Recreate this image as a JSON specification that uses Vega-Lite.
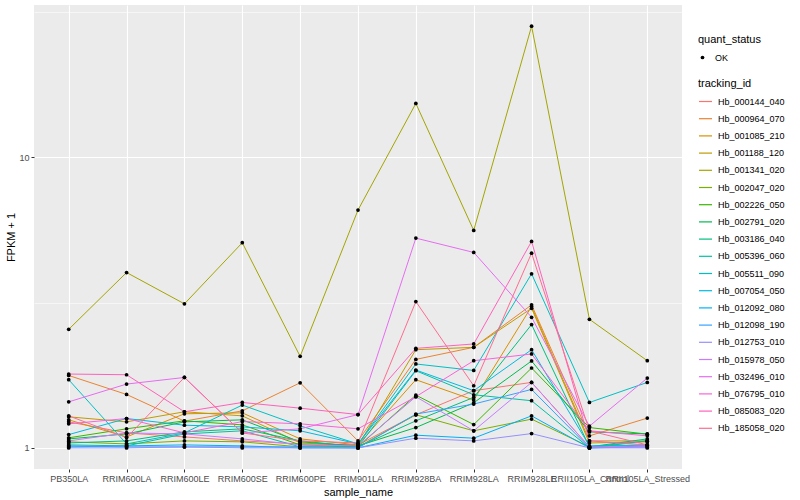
{
  "$schema": "https://vega.github.io/schema/vega-lite/v6.json",
  "autosize": {"type": "none"},
  "width": 648,
  "height": 464,
  "padding": {"left": 34, "top": 5, "right": 118, "bottom": 31},
  "background": "white",
  "config": {
    "font": "Liberation Sans",
    "view": {"fill": "#EBEBEB", "stroke": null},
    "axis": {
      "gridColor": "white",
      "gridWidth": 1.1,
      "domain": false,
      "tickColor": "#333333",
      "tickSize": 3,
      "labelColor": "#4D4D4D",
      "labelFontSize": 9,
      "titleFontSize": 11,
      "titleFontWeight": "normal",
      "titleColor": "black"
    },
    "legend": {
      "titleFontSize": 11,
      "titleFontWeight": "normal",
      "titleColor": "black",
      "labelFontSize": 9,
      "labelColor": "black"
    }
  },
  "data": {"values": [
{"tracking_id":"Hb_000144_040","sample_name":"PB350LA","fpkm_plus_1":1.229,"quant_status":"OK"},
{"tracking_id":"Hb_000144_040","sample_name":"RRIM600LA","fpkm_plus_1":1.126,"quant_status":"OK"},
{"tracking_id":"Hb_000144_040","sample_name":"RRIM600LE","fpkm_plus_1":1.091,"quant_status":"OK"},
{"tracking_id":"Hb_000144_040","sample_name":"RRIM600SE","fpkm_plus_1":1.057,"quant_status":"OK"},
{"tracking_id":"Hb_000144_040","sample_name":"RRIM600PE","fpkm_plus_1":1.032,"quant_status":"OK"},
{"tracking_id":"Hb_000144_040","sample_name":"RRIM901LA","fpkm_plus_1":1.024,"quant_status":"OK"},
{"tracking_id":"Hb_000144_040","sample_name":"RRIM928BA","fpkm_plus_1":1.300,"quant_status":"OK"},
{"tracking_id":"Hb_000144_040","sample_name":"RRIM928LA","fpkm_plus_1":1.573,"quant_status":"OK"},
{"tracking_id":"Hb_000144_040","sample_name":"RRIM928LE","fpkm_plus_1":1.680,"quant_status":"OK"},
{"tracking_id":"Hb_000144_040","sample_name":"RRII105LA_Control","fpkm_plus_1":1.008,"quant_status":"OK"},
{"tracking_id":"Hb_000144_040","sample_name":"RRII105LA_Stressed","fpkm_plus_1":1.024,"quant_status":"OK"},
{"tracking_id":"Hb_000964_070","sample_name":"PB350LA","fpkm_plus_1":1.775,"quant_status":"OK"},
{"tracking_id":"Hb_000964_070","sample_name":"RRIM600LA","fpkm_plus_1":1.527,"quant_status":"OK"},
{"tracking_id":"Hb_000964_070","sample_name":"RRIM600LE","fpkm_plus_1":1.236,"quant_status":"OK"},
{"tracking_id":"Hb_000964_070","sample_name":"RRIM600SE","fpkm_plus_1":1.341,"quant_status":"OK"},
{"tracking_id":"Hb_000964_070","sample_name":"RRIM600PE","fpkm_plus_1":1.675,"quant_status":"OK"},
{"tracking_id":"Hb_000964_070","sample_name":"RRIM901LA","fpkm_plus_1":1.057,"quant_status":"OK"},
{"tracking_id":"Hb_000964_070","sample_name":"RRIM928BA","fpkm_plus_1":2.016,"quant_status":"OK"},
{"tracking_id":"Hb_000964_070","sample_name":"RRIM928LA","fpkm_plus_1":2.218,"quant_status":"OK"},
{"tracking_id":"Hb_000964_070","sample_name":"RRIM928LE","fpkm_plus_1":3.105,"quant_status":"OK"},
{"tracking_id":"Hb_000964_070","sample_name":"RRII105LA_Control","fpkm_plus_1":1.100,"quant_status":"OK"},
{"tracking_id":"Hb_000964_070","sample_name":"RRII105LA_Stressed","fpkm_plus_1":1.266,"quant_status":"OK"},
{"tracking_id":"Hb_001085_210","sample_name":"PB350LA","fpkm_plus_1":1.249,"quant_status":"OK"},
{"tracking_id":"Hb_001085_210","sample_name":"RRIM600LA","fpkm_plus_1":1.091,"quant_status":"OK"},
{"tracking_id":"Hb_001085_210","sample_name":"RRIM600LE","fpkm_plus_1":1.310,"quant_status":"OK"},
{"tracking_id":"Hb_001085_210","sample_name":"RRIM600SE","fpkm_plus_1":1.320,"quant_status":"OK"},
{"tracking_id":"Hb_001085_210","sample_name":"RRIM600PE","fpkm_plus_1":1.074,"quant_status":"OK"},
{"tracking_id":"Hb_001085_210","sample_name":"RRIM901LA","fpkm_plus_1":1.024,"quant_status":"OK"},
{"tracking_id":"Hb_001085_210","sample_name":"RRIM928BA","fpkm_plus_1":1.716,"quant_status":"OK"},
{"tracking_id":"Hb_001085_210","sample_name":"RRIM928LA","fpkm_plus_1":1.461,"quant_status":"OK"},
{"tracking_id":"Hb_001085_210","sample_name":"RRIM928LE","fpkm_plus_1":3.063,"quant_status":"OK"},
{"tracking_id":"Hb_001085_210","sample_name":"RRII105LA_Control","fpkm_plus_1":1.057,"quant_status":"OK"},
{"tracking_id":"Hb_001085_210","sample_name":"RRII105LA_Stressed","fpkm_plus_1":1.057,"quant_status":"OK"},
{"tracking_id":"Hb_001188_120","sample_name":"PB350LA","fpkm_plus_1":1.279,"quant_status":"OK"},
{"tracking_id":"Hb_001188_120","sample_name":"RRIM600LA","fpkm_plus_1":1.229,"quant_status":"OK"},
{"tracking_id":"Hb_001188_120","sample_name":"RRIM600LE","fpkm_plus_1":1.331,"quant_status":"OK"},
{"tracking_id":"Hb_001188_120","sample_name":"RRIM600SE","fpkm_plus_1":1.289,"quant_status":"OK"},
{"tracking_id":"Hb_001188_120","sample_name":"RRIM600PE","fpkm_plus_1":1.040,"quant_status":"OK"},
{"tracking_id":"Hb_001188_120","sample_name":"RRIM901LA","fpkm_plus_1":1.016,"quant_status":"OK"},
{"tracking_id":"Hb_001188_120","sample_name":"RRIM928BA","fpkm_plus_1":2.177,"quant_status":"OK"},
{"tracking_id":"Hb_001188_120","sample_name":"RRIM928LA","fpkm_plus_1":2.218,"quant_status":"OK"},
{"tracking_id":"Hb_001188_120","sample_name":"RRIM928LE","fpkm_plus_1":3.022,"quant_status":"OK"},
{"tracking_id":"Hb_001188_120","sample_name":"RRII105LA_Control","fpkm_plus_1":1.040,"quant_status":"OK"},
{"tracking_id":"Hb_001188_120","sample_name":"RRII105LA_Stressed","fpkm_plus_1":1.049,"quant_status":"OK"},
{"tracking_id":"Hb_001341_020","sample_name":"PB350LA","fpkm_plus_1":2.558,"quant_status":"OK"},
{"tracking_id":"Hb_001341_020","sample_name":"RRIM600LA","fpkm_plus_1":4.012,"quant_status":"OK"},
{"tracking_id":"Hb_001341_020","sample_name":"RRIM600LE","fpkm_plus_1":3.130,"quant_status":"OK"},
{"tracking_id":"Hb_001341_020","sample_name":"RRIM600SE","fpkm_plus_1":5.080,"quant_status":"OK"},
{"tracking_id":"Hb_001341_020","sample_name":"RRIM600PE","fpkm_plus_1":2.065,"quant_status":"OK"},
{"tracking_id":"Hb_001341_020","sample_name":"RRIM901LA","fpkm_plus_1":6.581,"quant_status":"OK"},
{"tracking_id":"Hb_001341_020","sample_name":"RRIM928BA","fpkm_plus_1":15.31,"quant_status":"OK"},
{"tracking_id":"Hb_001341_020","sample_name":"RRIM928LA","fpkm_plus_1":5.601,"quant_status":"OK"},
{"tracking_id":"Hb_001341_020","sample_name":"RRIM928LE","fpkm_plus_1":28.23,"quant_status":"OK"},
{"tracking_id":"Hb_001341_020","sample_name":"RRII105LA_Control","fpkm_plus_1":2.770,"quant_status":"OK"},
{"tracking_id":"Hb_001341_020","sample_name":"RRII105LA_Stressed","fpkm_plus_1":1.995,"quant_status":"OK"},
{"tracking_id":"Hb_002047_020","sample_name":"PB350LA","fpkm_plus_1":1.049,"quant_status":"OK"},
{"tracking_id":"Hb_002047_020","sample_name":"RRIM600LA","fpkm_plus_1":1.032,"quant_status":"OK"},
{"tracking_id":"Hb_002047_020","sample_name":"RRIM600LE","fpkm_plus_1":1.057,"quant_status":"OK"},
{"tracking_id":"Hb_002047_020","sample_name":"RRIM600SE","fpkm_plus_1":1.049,"quant_status":"OK"},
{"tracking_id":"Hb_002047_020","sample_name":"RRIM600PE","fpkm_plus_1":1.008,"quant_status":"OK"},
{"tracking_id":"Hb_002047_020","sample_name":"RRIM901LA","fpkm_plus_1":1.008,"quant_status":"OK"},
{"tracking_id":"Hb_002047_020","sample_name":"RRIM928BA","fpkm_plus_1":1.300,"quant_status":"OK"},
{"tracking_id":"Hb_002047_020","sample_name":"RRIM928LA","fpkm_plus_1":1.145,"quant_status":"OK"},
{"tracking_id":"Hb_002047_020","sample_name":"RRIM928LE","fpkm_plus_1":1.256,"quant_status":"OK"},
{"tracking_id":"Hb_002047_020","sample_name":"RRII105LA_Control","fpkm_plus_1":1.008,"quant_status":"OK"},
{"tracking_id":"Hb_002047_020","sample_name":"RRII105LA_Stressed","fpkm_plus_1":1.057,"quant_status":"OK"},
{"tracking_id":"Hb_002226_050","sample_name":"PB350LA","fpkm_plus_1":1.083,"quant_status":"OK"},
{"tracking_id":"Hb_002226_050","sample_name":"RRIM600LA","fpkm_plus_1":1.163,"quant_status":"OK"},
{"tracking_id":"Hb_002226_050","sample_name":"RRIM600LE","fpkm_plus_1":1.239,"quant_status":"OK"},
{"tracking_id":"Hb_002226_050","sample_name":"RRIM600SE","fpkm_plus_1":1.200,"quant_status":"OK"},
{"tracking_id":"Hb_002226_050","sample_name":"RRIM600PE","fpkm_plus_1":1.024,"quant_status":"OK"},
{"tracking_id":"Hb_002226_050","sample_name":"RRIM901LA","fpkm_plus_1":1.008,"quant_status":"OK"},
{"tracking_id":"Hb_002226_050","sample_name":"RRIM928BA","fpkm_plus_1":1.519,"quant_status":"OK"},
{"tracking_id":"Hb_002226_050","sample_name":"RRIM928LA","fpkm_plus_1":1.203,"quant_status":"OK"},
{"tracking_id":"Hb_002226_050","sample_name":"RRIM928LE","fpkm_plus_1":1.883,"quant_status":"OK"},
{"tracking_id":"Hb_002226_050","sample_name":"RRII105LA_Control","fpkm_plus_1":1.175,"quant_status":"OK"},
{"tracking_id":"Hb_002226_050","sample_name":"RRII105LA_Stressed","fpkm_plus_1":1.115,"quant_status":"OK"},
{"tracking_id":"Hb_002791_020","sample_name":"PB350LA","fpkm_plus_1":1.074,"quant_status":"OK"},
{"tracking_id":"Hb_002791_020","sample_name":"RRIM600LA","fpkm_plus_1":1.117,"quant_status":"OK"},
{"tracking_id":"Hb_002791_020","sample_name":"RRIM600LE","fpkm_plus_1":1.229,"quant_status":"OK"},
{"tracking_id":"Hb_002791_020","sample_name":"RRIM600SE","fpkm_plus_1":1.249,"quant_status":"OK"},
{"tracking_id":"Hb_002791_020","sample_name":"RRIM600PE","fpkm_plus_1":1.049,"quant_status":"OK"},
{"tracking_id":"Hb_002791_020","sample_name":"RRIM901LA","fpkm_plus_1":1.016,"quant_status":"OK"},
{"tracking_id":"Hb_002791_020","sample_name":"RRIM928BA","fpkm_plus_1":1.175,"quant_status":"OK"},
{"tracking_id":"Hb_002791_020","sample_name":"RRIM928LA","fpkm_plus_1":1.429,"quant_status":"OK"},
{"tracking_id":"Hb_002791_020","sample_name":"RRIM928LE","fpkm_plus_1":1.991,"quant_status":"OK"},
{"tracking_id":"Hb_002791_020","sample_name":"RRII105LA_Control","fpkm_plus_1":1.135,"quant_status":"OK"},
{"tracking_id":"Hb_002791_020","sample_name":"RRII105LA_Stressed","fpkm_plus_1":1.117,"quant_status":"OK"},
{"tracking_id":"Hb_003186_040","sample_name":"PB350LA","fpkm_plus_1":1.040,"quant_status":"OK"},
{"tracking_id":"Hb_003186_040","sample_name":"RRIM600LA","fpkm_plus_1":1.057,"quant_status":"OK"},
{"tracking_id":"Hb_003186_040","sample_name":"RRIM600LE","fpkm_plus_1":1.135,"quant_status":"OK"},
{"tracking_id":"Hb_003186_040","sample_name":"RRIM600SE","fpkm_plus_1":1.163,"quant_status":"OK"},
{"tracking_id":"Hb_003186_040","sample_name":"RRIM600PE","fpkm_plus_1":1.057,"quant_status":"OK"},
{"tracking_id":"Hb_003186_040","sample_name":"RRIM901LA","fpkm_plus_1":1.008,"quant_status":"OK"},
{"tracking_id":"Hb_003186_040","sample_name":"RRIM928BA","fpkm_plus_1":1.239,"quant_status":"OK"},
{"tracking_id":"Hb_003186_040","sample_name":"RRIM928LA","fpkm_plus_1":1.491,"quant_status":"OK"},
{"tracking_id":"Hb_003186_040","sample_name":"RRIM928LE","fpkm_plus_1":2.656,"quant_status":"OK"},
{"tracking_id":"Hb_003186_040","sample_name":"RRII105LA_Control","fpkm_plus_1":1.008,"quant_status":"OK"},
{"tracking_id":"Hb_003186_040","sample_name":"RRII105LA_Stressed","fpkm_plus_1":1.074,"quant_status":"OK"},
{"tracking_id":"Hb_005396_060","sample_name":"PB350LA","fpkm_plus_1":1.024,"quant_status":"OK"},
{"tracking_id":"Hb_005396_060","sample_name":"RRIM600LA","fpkm_plus_1":1.016,"quant_status":"OK"},
{"tracking_id":"Hb_005396_060","sample_name":"RRIM600LE","fpkm_plus_1":1.117,"quant_status":"OK"},
{"tracking_id":"Hb_005396_060","sample_name":"RRIM600SE","fpkm_plus_1":1.145,"quant_status":"OK"},
{"tracking_id":"Hb_005396_060","sample_name":"RRIM600PE","fpkm_plus_1":1.008,"quant_status":"OK"},
{"tracking_id":"Hb_005396_060","sample_name":"RRIM901LA","fpkm_plus_1":1.008,"quant_status":"OK"},
{"tracking_id":"Hb_005396_060","sample_name":"RRIM928BA","fpkm_plus_1":1.843,"quant_status":"OK"},
{"tracking_id":"Hb_005396_060","sample_name":"RRIM928LA","fpkm_plus_1":1.523,"quant_status":"OK"},
{"tracking_id":"Hb_005396_060","sample_name":"RRIM928LE","fpkm_plus_1":1.453,"quant_status":"OK"},
{"tracking_id":"Hb_005396_060","sample_name":"RRII105LA_Control","fpkm_plus_1":1.000,"quant_status":"OK"},
{"tracking_id":"Hb_005396_060","sample_name":"RRII105LA_Stressed","fpkm_plus_1":1.057,"quant_status":"OK"},
{"tracking_id":"Hb_005511_090","sample_name":"PB350LA","fpkm_plus_1":1.716,"quant_status":"OK"},
{"tracking_id":"Hb_005511_090","sample_name":"RRIM600LA","fpkm_plus_1":1.032,"quant_status":"OK"},
{"tracking_id":"Hb_005511_090","sample_name":"RRIM600LE","fpkm_plus_1":1.126,"quant_status":"OK"},
{"tracking_id":"Hb_005511_090","sample_name":"RRIM600SE","fpkm_plus_1":1.404,"quant_status":"OK"},
{"tracking_id":"Hb_005511_090","sample_name":"RRIM600PE","fpkm_plus_1":1.191,"quant_status":"OK"},
{"tracking_id":"Hb_005511_090","sample_name":"RRIM901LA","fpkm_plus_1":1.032,"quant_status":"OK"},
{"tracking_id":"Hb_005511_090","sample_name":"RRIM928BA","fpkm_plus_1":1.944,"quant_status":"OK"},
{"tracking_id":"Hb_005511_090","sample_name":"RRIM928LA","fpkm_plus_1":1.847,"quant_status":"OK"},
{"tracking_id":"Hb_005511_090","sample_name":"RRIM928LE","fpkm_plus_1":3.972,"quant_status":"OK"},
{"tracking_id":"Hb_005511_090","sample_name":"RRII105LA_Control","fpkm_plus_1":1.433,"quant_status":"OK"},
{"tracking_id":"Hb_005511_090","sample_name":"RRII105LA_Stressed","fpkm_plus_1":1.680,"quant_status":"OK"},
{"tracking_id":"Hb_007054_050","sample_name":"PB350LA","fpkm_plus_1":1.111,"quant_status":"OK"},
{"tracking_id":"Hb_007054_050","sample_name":"RRIM600LA","fpkm_plus_1":1.262,"quant_status":"OK"},
{"tracking_id":"Hb_007054_050","sample_name":"RRIM600LE","fpkm_plus_1":1.197,"quant_status":"OK"},
{"tracking_id":"Hb_007054_050","sample_name":"RRIM600SE","fpkm_plus_1":1.181,"quant_status":"OK"},
{"tracking_id":"Hb_007054_050","sample_name":"RRIM600PE","fpkm_plus_1":1.145,"quant_status":"OK"},
{"tracking_id":"Hb_007054_050","sample_name":"RRIM901LA","fpkm_plus_1":1.032,"quant_status":"OK"},
{"tracking_id":"Hb_007054_050","sample_name":"RRIM928BA","fpkm_plus_1":1.853,"quant_status":"OK"},
{"tracking_id":"Hb_007054_050","sample_name":"RRIM928LA","fpkm_plus_1":1.573,"quant_status":"OK"},
{"tracking_id":"Hb_007054_050","sample_name":"RRIM928LE","fpkm_plus_1":2.177,"quant_status":"OK"},
{"tracking_id":"Hb_007054_050","sample_name":"RRII105LA_Control","fpkm_plus_1":1.016,"quant_status":"OK"},
{"tracking_id":"Hb_007054_050","sample_name":"RRII105LA_Stressed","fpkm_plus_1":1.024,"quant_status":"OK"},
{"tracking_id":"Hb_012092_080","sample_name":"PB350LA","fpkm_plus_1":1.008,"quant_status":"OK"},
{"tracking_id":"Hb_012092_080","sample_name":"RRIM600LA","fpkm_plus_1":1.016,"quant_status":"OK"},
{"tracking_id":"Hb_012092_080","sample_name":"RRIM600LE","fpkm_plus_1":1.024,"quant_status":"OK"},
{"tracking_id":"Hb_012092_080","sample_name":"RRIM600SE","fpkm_plus_1":1.016,"quant_status":"OK"},
{"tracking_id":"Hb_012092_080","sample_name":"RRIM600PE","fpkm_plus_1":1.000,"quant_status":"OK"},
{"tracking_id":"Hb_012092_080","sample_name":"RRIM901LA","fpkm_plus_1":1.000,"quant_status":"OK"},
{"tracking_id":"Hb_012092_080","sample_name":"RRIM928BA","fpkm_plus_1":1.106,"quant_status":"OK"},
{"tracking_id":"Hb_012092_080","sample_name":"RRIM928LA","fpkm_plus_1":1.080,"quant_status":"OK"},
{"tracking_id":"Hb_012092_080","sample_name":"RRIM928LE","fpkm_plus_1":1.289,"quant_status":"OK"},
{"tracking_id":"Hb_012092_080","sample_name":"RRII105LA_Control","fpkm_plus_1":1.000,"quant_status":"OK"},
{"tracking_id":"Hb_012092_080","sample_name":"RRII105LA_Stressed","fpkm_plus_1":1.008,"quant_status":"OK"},
{"tracking_id":"Hb_012098_190","sample_name":"PB350LA","fpkm_plus_1":1.016,"quant_status":"OK"},
{"tracking_id":"Hb_012098_190","sample_name":"RRIM600LA","fpkm_plus_1":1.008,"quant_status":"OK"},
{"tracking_id":"Hb_012098_190","sample_name":"RRIM600LE","fpkm_plus_1":1.008,"quant_status":"OK"},
{"tracking_id":"Hb_012098_190","sample_name":"RRIM600SE","fpkm_plus_1":1.008,"quant_status":"OK"},
{"tracking_id":"Hb_012098_190","sample_name":"RRIM600PE","fpkm_plus_1":1.008,"quant_status":"OK"},
{"tracking_id":"Hb_012098_190","sample_name":"RRIM901LA","fpkm_plus_1":1.000,"quant_status":"OK"},
{"tracking_id":"Hb_012098_190","sample_name":"RRIM928BA","fpkm_plus_1":1.307,"quant_status":"OK"},
{"tracking_id":"Hb_012098_190","sample_name":"RRIM928LA","fpkm_plus_1":1.415,"quant_status":"OK"},
{"tracking_id":"Hb_012098_190","sample_name":"RRIM928LE","fpkm_plus_1":1.589,"quant_status":"OK"},
{"tracking_id":"Hb_012098_190","sample_name":"RRII105LA_Control","fpkm_plus_1":1.000,"quant_status":"OK"},
{"tracking_id":"Hb_012098_190","sample_name":"RRII105LA_Stressed","fpkm_plus_1":1.016,"quant_status":"OK"},
{"tracking_id":"Hb_012753_010","sample_name":"PB350LA","fpkm_plus_1":1.000,"quant_status":"OK"},
{"tracking_id":"Hb_012753_010","sample_name":"RRIM600LA","fpkm_plus_1":1.000,"quant_status":"OK"},
{"tracking_id":"Hb_012753_010","sample_name":"RRIM600LE","fpkm_plus_1":1.008,"quant_status":"OK"},
{"tracking_id":"Hb_012753_010","sample_name":"RRIM600SE","fpkm_plus_1":1.000,"quant_status":"OK"},
{"tracking_id":"Hb_012753_010","sample_name":"RRIM600PE","fpkm_plus_1":1.000,"quant_status":"OK"},
{"tracking_id":"Hb_012753_010","sample_name":"RRIM901LA","fpkm_plus_1":1.000,"quant_status":"OK"},
{"tracking_id":"Hb_012753_010","sample_name":"RRIM928BA","fpkm_plus_1":1.080,"quant_status":"OK"},
{"tracking_id":"Hb_012753_010","sample_name":"RRIM928LA","fpkm_plus_1":1.057,"quant_status":"OK"},
{"tracking_id":"Hb_012753_010","sample_name":"RRIM928LE","fpkm_plus_1":1.120,"quant_status":"OK"},
{"tracking_id":"Hb_012753_010","sample_name":"RRII105LA_Control","fpkm_plus_1":1.000,"quant_status":"OK"},
{"tracking_id":"Hb_012753_010","sample_name":"RRII105LA_Stressed","fpkm_plus_1":1.000,"quant_status":"OK"},
{"tracking_id":"Hb_015978_050","sample_name":"PB350LA","fpkm_plus_1":1.057,"quant_status":"OK"},
{"tracking_id":"Hb_015978_050","sample_name":"RRIM600LA","fpkm_plus_1":1.126,"quant_status":"OK"},
{"tracking_id":"Hb_015978_050","sample_name":"RRIM600LE","fpkm_plus_1":1.117,"quant_status":"OK"},
{"tracking_id":"Hb_015978_050","sample_name":"RRIM600SE","fpkm_plus_1":1.074,"quant_status":"OK"},
{"tracking_id":"Hb_015978_050","sample_name":"RRIM600PE","fpkm_plus_1":1.024,"quant_status":"OK"},
{"tracking_id":"Hb_015978_050","sample_name":"RRIM901LA","fpkm_plus_1":1.016,"quant_status":"OK"},
{"tracking_id":"Hb_015978_050","sample_name":"RRIM928BA","fpkm_plus_1":1.500,"quant_status":"OK"},
{"tracking_id":"Hb_015978_050","sample_name":"RRIM928LA","fpkm_plus_1":1.145,"quant_status":"OK"},
{"tracking_id":"Hb_015978_050","sample_name":"RRIM928LE","fpkm_plus_1":1.680,"quant_status":"OK"},
{"tracking_id":"Hb_015978_050","sample_name":"RRII105LA_Control","fpkm_plus_1":1.008,"quant_status":"OK"},
{"tracking_id":"Hb_015978_050","sample_name":"RRII105LA_Stressed","fpkm_plus_1":1.008,"quant_status":"OK"},
{"tracking_id":"Hb_032496_010","sample_name":"PB350LA","fpkm_plus_1":1.440,"quant_status":"OK"},
{"tracking_id":"Hb_032496_010","sample_name":"RRIM600LA","fpkm_plus_1":1.658,"quant_status":"OK"},
{"tracking_id":"Hb_032496_010","sample_name":"RRIM600LE","fpkm_plus_1":1.747,"quant_status":"OK"},
{"tracking_id":"Hb_032496_010","sample_name":"RRIM600SE","fpkm_plus_1":1.126,"quant_status":"OK"},
{"tracking_id":"Hb_032496_010","sample_name":"RRIM600PE","fpkm_plus_1":1.163,"quant_status":"OK"},
{"tracking_id":"Hb_032496_010","sample_name":"RRIM901LA","fpkm_plus_1":1.302,"quant_status":"OK"},
{"tracking_id":"Hb_032496_010","sample_name":"RRIM928BA","fpkm_plus_1":5.269,"quant_status":"OK"},
{"tracking_id":"Hb_032496_010","sample_name":"RRIM928LA","fpkm_plus_1":4.704,"quant_status":"OK"},
{"tracking_id":"Hb_032496_010","sample_name":"RRIM928LE","fpkm_plus_1":2.814,"quant_status":"OK"},
{"tracking_id":"Hb_032496_010","sample_name":"RRII105LA_Control","fpkm_plus_1":1.188,"quant_status":"OK"},
{"tracking_id":"Hb_032496_010","sample_name":"RRII105LA_Stressed","fpkm_plus_1":1.739,"quant_status":"OK"},
{"tracking_id":"Hb_076795_010","sample_name":"PB350LA","fpkm_plus_1":1.210,"quant_status":"OK"},
{"tracking_id":"Hb_076795_010","sample_name":"RRIM600LA","fpkm_plus_1":1.262,"quant_status":"OK"},
{"tracking_id":"Hb_076795_010","sample_name":"RRIM600LE","fpkm_plus_1":1.126,"quant_status":"OK"},
{"tracking_id":"Hb_076795_010","sample_name":"RRIM600SE","fpkm_plus_1":1.232,"quant_status":"OK"},
{"tracking_id":"Hb_076795_010","sample_name":"RRIM600PE","fpkm_plus_1":1.210,"quant_status":"OK"},
{"tracking_id":"Hb_076795_010","sample_name":"RRIM901LA","fpkm_plus_1":1.163,"quant_status":"OK"},
{"tracking_id":"Hb_076795_010","sample_name":"RRIM928BA","fpkm_plus_1":1.500,"quant_status":"OK"},
{"tracking_id":"Hb_076795_010","sample_name":"RRIM928LA","fpkm_plus_1":1.995,"quant_status":"OK"},
{"tracking_id":"Hb_076795_010","sample_name":"RRIM928LE","fpkm_plus_1":2.104,"quant_status":"OK"},
{"tracking_id":"Hb_076795_010","sample_name":"RRII105LA_Control","fpkm_plus_1":1.145,"quant_status":"OK"},
{"tracking_id":"Hb_076795_010","sample_name":"RRII105LA_Stressed","fpkm_plus_1":1.100,"quant_status":"OK"},
{"tracking_id":"Hb_085083_020","sample_name":"PB350LA","fpkm_plus_1":1.795,"quant_status":"OK"},
{"tracking_id":"Hb_085083_020","sample_name":"RRIM600LA","fpkm_plus_1":1.785,"quant_status":"OK"},
{"tracking_id":"Hb_085083_020","sample_name":"RRIM600LE","fpkm_plus_1":1.331,"quant_status":"OK"},
{"tracking_id":"Hb_085083_020","sample_name":"RRIM600SE","fpkm_plus_1":1.433,"quant_status":"OK"},
{"tracking_id":"Hb_085083_020","sample_name":"RRIM600PE","fpkm_plus_1":1.370,"quant_status":"OK"},
{"tracking_id":"Hb_085083_020","sample_name":"RRIM901LA","fpkm_plus_1":1.302,"quant_status":"OK"},
{"tracking_id":"Hb_085083_020","sample_name":"RRIM928BA","fpkm_plus_1":2.200,"quant_status":"OK"},
{"tracking_id":"Hb_085083_020","sample_name":"RRIM928LA","fpkm_plus_1":2.278,"quant_status":"OK"},
{"tracking_id":"Hb_085083_020","sample_name":"RRIM928LE","fpkm_plus_1":5.132,"quant_status":"OK"},
{"tracking_id":"Hb_085083_020","sample_name":"RRII105LA_Control","fpkm_plus_1":1.057,"quant_status":"OK"},
{"tracking_id":"Hb_085083_020","sample_name":"RRII105LA_Stressed","fpkm_plus_1":1.024,"quant_status":"OK"},
{"tracking_id":"Hb_185058_020","sample_name":"PB350LA","fpkm_plus_1":1.289,"quant_status":"OK"},
{"tracking_id":"Hb_185058_020","sample_name":"RRIM600LA","fpkm_plus_1":1.085,"quant_status":"OK"},
{"tracking_id":"Hb_185058_020","sample_name":"RRIM600LE","fpkm_plus_1":1.747,"quant_status":"OK"},
{"tracking_id":"Hb_185058_020","sample_name":"RRIM600SE","fpkm_plus_1":1.126,"quant_status":"OK"},
{"tracking_id":"Hb_185058_020","sample_name":"RRIM600PE","fpkm_plus_1":1.057,"quant_status":"OK"},
{"tracking_id":"Hb_185058_020","sample_name":"RRIM901LA","fpkm_plus_1":1.040,"quant_status":"OK"},
{"tracking_id":"Hb_185058_020","sample_name":"RRIM928BA","fpkm_plus_1":3.187,"quant_status":"OK"},
{"tracking_id":"Hb_185058_020","sample_name":"RRIM928LA","fpkm_plus_1":1.636,"quant_status":"OK"},
{"tracking_id":"Hb_185058_020","sample_name":"RRIM928LE","fpkm_plus_1":4.678,"quant_status":"OK"},
{"tracking_id":"Hb_185058_020","sample_name":"RRII105LA_Control","fpkm_plus_1":1.145,"quant_status":"OK"},
{"tracking_id":"Hb_185058_020","sample_name":"RRII105LA_Stressed","fpkm_plus_1":1.024,"quant_status":"OK"}
  ]},
  "encoding": {
    "x": {
      "field": "sample_name",
      "type": "nominal",
      "title": "sample_name",
      "sort": ["PB350LA","RRIM600LA","RRIM600LE","RRIM600SE","RRIM600PE","RRIM901LA","RRIM928BA","RRIM928LA","RRIM928LE","RRII105LA_Control","RRII105LA_Stressed"],
      "scale": {"type": "point", "padding": 0.6},
      "axis": {"labelAngle": 0, "labelOverlap": false, "labelPadding": 2, "titlePadding": 3, "grid": true}
    },
    "y": {
      "field": "fpkm_plus_1",
      "type": "quantitative",
      "title": "FPKM + 1",
      "scale": {"type": "log", "domain": [0.846, 33.4], "nice": false, "zero": false},
      "axis": {
        "values": [1, 3.1623, 10, 31.623],
        "labelExpr": "datum.value == 1 || datum.value == 10 ? datum.label : ''",
        "format": "~g",
        "gridWidth": {"condition": {"test": "datum.value == 1 || datum.value == 10", "value": 1.1}, "value": 0.55},
        "tickSize": {"condition": {"test": "datum.value == 1 || datum.value == 10", "value": 3}, "value": 0},
        "labelPadding": 2,
        "titlePadding": 2
      }
    }
  },
  "layer": [
    {
      "mark": {"type": "line", "strokeWidth": 1},
      "encoding": {
        "color": {
          "field": "tracking_id",
          "type": "nominal",
          "title": "tracking_id",
          "scale": {
            "domain": ["Hb_000144_040","Hb_000964_070","Hb_001085_210","Hb_001188_120","Hb_001341_020","Hb_002047_020","Hb_002226_050","Hb_002791_020","Hb_003186_040","Hb_005396_060","Hb_005511_090","Hb_007054_050","Hb_012092_080","Hb_012098_190","Hb_012753_010","Hb_015978_050","Hb_032496_010","Hb_076795_010","Hb_085083_020","Hb_185058_020"],
            "range": ["#F8766D","#EA8331","#D89000","#C09B00","#A3A500","#7CAE00","#39B600","#00BB4E","#00BF7D","#00C1A3","#00BFC4","#00BAE0","#00B0F6","#35A2FF","#9590FF","#C77CFF","#E76BF3","#FA62DB","#FF62BC","#FF6C91"]
          },
          "legend": {
            "orient": "none",
            "legendX": 664,
            "legendY": 73,
            "symbolType": "stroke",
            "symbolSize": 170,
            "symbolStrokeWidth": 1.2,
            "rowPadding": 4.2,
            "titlePadding": 5,
            "labelOffset": 5
          }
        },
        "order": {"value": null}
      }
    },
    {
      "mark": {"type": "point", "filled": true, "color": "black", "size": 14, "opacity": 1},
      "encoding": {
        "shape": {
          "field": "quant_status",
          "type": "nominal",
          "title": "quant_status",
          "scale": {"range": ["circle"]},
          "legend": {
            "orient": "none",
            "legendX": 664,
            "legendY": 29,
            "symbolFillColor": "black",
            "symbolStrokeColor": "black",
            "symbolSize": 14,
            "titlePadding": 8,
            "labelOffset": 8
          }
        }
      }
    }
  ]
}
